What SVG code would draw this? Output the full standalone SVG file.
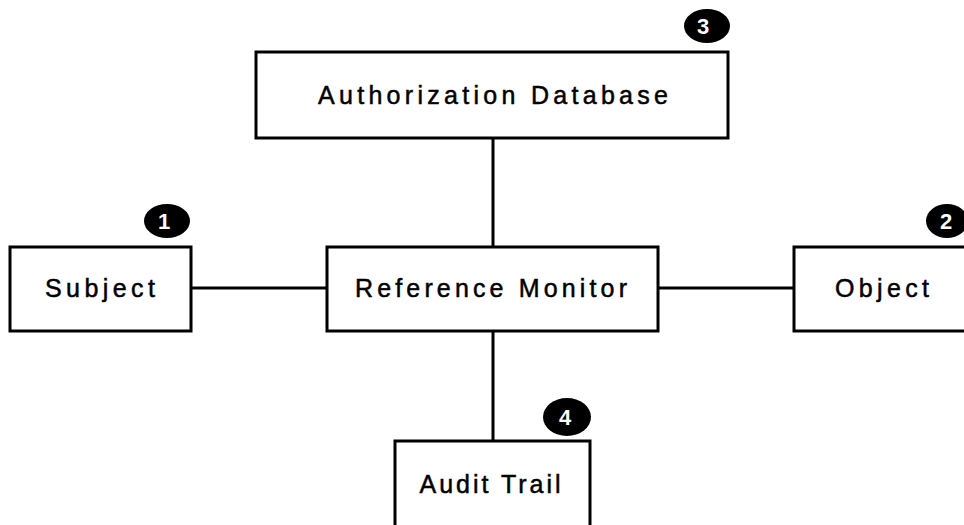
<svg xmlns="http://www.w3.org/2000/svg" width="964" height="525" viewBox="0 0 964 525">
<style>
.box{fill:#fff;stroke:#000;stroke-width:3}
.lbl{font-family:"Liberation Sans",Arial,sans-serif;font-size:25px;fill:#000;stroke:#000;stroke-width:0.5;text-anchor:middle}
.conn{stroke:#000;stroke-width:3;fill:none}
.badge{fill:#000}
.num{font-family:"Liberation Sans",Arial,sans-serif;font-size:22px;font-weight:bold;fill:#fff;text-anchor:middle}
</style>
<rect width="964" height="525" fill="#fff"/>
<g id="connectors">
<line class="conn" x1="493" y1="138" x2="493" y2="247"/>
<line class="conn" x1="191" y1="288" x2="327" y2="288"/>
<line class="conn" x1="658" y1="288" x2="794" y2="288"/>
<line class="conn" x1="493" y1="331" x2="493" y2="441"/>
</g>
<g id="authdb">
<rect class="box" x="256" y="52" width="472" height="86"/>
<text class="lbl" x="493" y="104" textLength="350" lengthAdjust="spacing">Authorization Database</text>
</g>
<g id="subject">
<rect class="box" x="10" y="247" width="181" height="84"/>
<text class="lbl" x="100" y="297" textLength="110" lengthAdjust="spacing">Subject</text>
</g>
<g id="refmon">
<rect class="box" x="327" y="247" width="331" height="84"/>
<text class="lbl" x="491" y="297" textLength="272" lengthAdjust="spacing">Reference Monitor</text>
</g>
<g id="object">
<rect class="box" x="794" y="247" width="180" height="84"/>
<text class="lbl" x="882" y="297" textLength="94" lengthAdjust="spacing">Object</text>
</g>
<g id="audit">
<rect class="box" x="395" y="441" width="195" height="100"/>
<text class="lbl" x="490" y="493" textLength="141" lengthAdjust="spacing">Audit Trail</text>
</g>
<g id="badge1">
<ellipse class="badge" cx="167" cy="221" rx="23" ry="17"/>
<text class="num" x="164" y="229">1</text>
</g>
<g id="badge2">
<ellipse class="badge" cx="947" cy="221" rx="21" ry="17"/>
<text class="num" x="946" y="229">2</text>
</g>
<g id="badge3">
<ellipse class="badge" cx="707" cy="26" rx="23" ry="17"/>
<text class="num" x="703" y="34">3</text>
</g>
<g id="badge4">
<ellipse class="badge" cx="567" cy="417" rx="24" ry="19"/>
<text class="num" x="565" y="425">4</text>
</g>
</svg>
